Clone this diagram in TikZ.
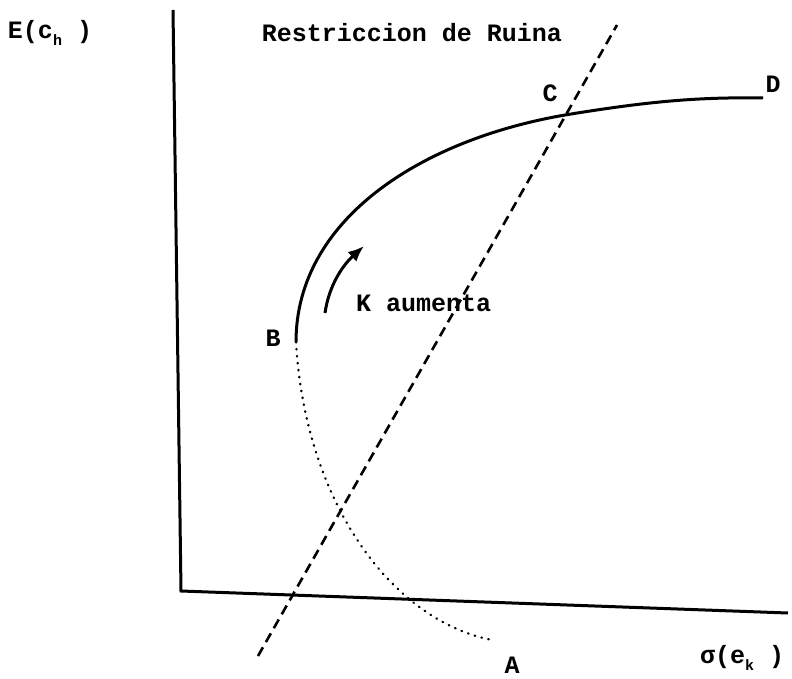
\documentclass[tikz,border=0pt]{standalone}
\usepackage{fontspec}
\setmainfont{Liberation Mono}
\usetikzlibrary{arrows.meta}

\tikzset{
    axis/.style={line width=3pt},
    curva/.style={line width=3pt},
    ruina/.style={line width=2.6pt, dash pattern=on 10pt off 6pt},
    punteada/.style={line width=2.4pt, line cap=round, dash pattern=on 0.5pt off 6.5pt},
    etiqueta/.style={font=\fontsize{25}{28}\selectfont\bfseries, inner sep=0pt}
}
\newcommand{\subidx}[1]{\raisebox{-7pt}{\fontsize{15}{15}\selectfont #1}}

\begin{document}
\begin{tikzpicture}[x=1pt, y=-1pt]
            \useasboundingbox (0,0) rectangle (792,679);

            % Ejes
            \coordinate (top) at (173,10);
            \coordinate (O) at (181,591);
            \coordinate (right) at (788,613);
            \draw[axis] (top) -- (O) -- (right);
            \node[etiqueta] (Ey) at (50,33) {E(c\subidx{h} )};
            \node[etiqueta] (sx) at (742,658) {σ(e\subidx{k} )};

            % Restriccion de Ruina
            \coordinate (r1) at (258,656);
            \coordinate (r2) at (617,25);
            \draw[ruina] (r1) -- (r2);
            \node[etiqueta] (titulo) at (412,33) {Restriccion de Ruina};

            % Frontera B - C - D
            \coordinate (B) at (296,342);
            \coordinate (C) at (565,115);
            \coordinate (D) at (763,98);
            \draw[curva] (B) .. controls (296,220) and (420,140) .. (C)
                .. controls (650,101) and (700,97) .. (D);
            \node[etiqueta] (lB) at (273,338) {B};
            \node[etiqueta] (lC) at (550,93) {C};
            \node[etiqueta] (lD) at (773,84) {D};

            % Tramo punteado B - A
            \coordinate (A) at (492,640);
            \draw[punteada] (B) .. controls (305,500) and (390,620) .. (A);
            \node[etiqueta] (lA) at (512,665) {A};

            % K aumenta
            \coordinate (k1) at (325,313);
            \coordinate (k2) at (364,246);
            \draw[line width=3pt, -{Latex[length=16pt,width=13pt]}]
                (k1) .. controls (329,285) and (343,265) .. (k2);
            \node[etiqueta, anchor=west] (lK) at (356,303) {K aumenta};

        \end{tikzpicture}
\end{document}
